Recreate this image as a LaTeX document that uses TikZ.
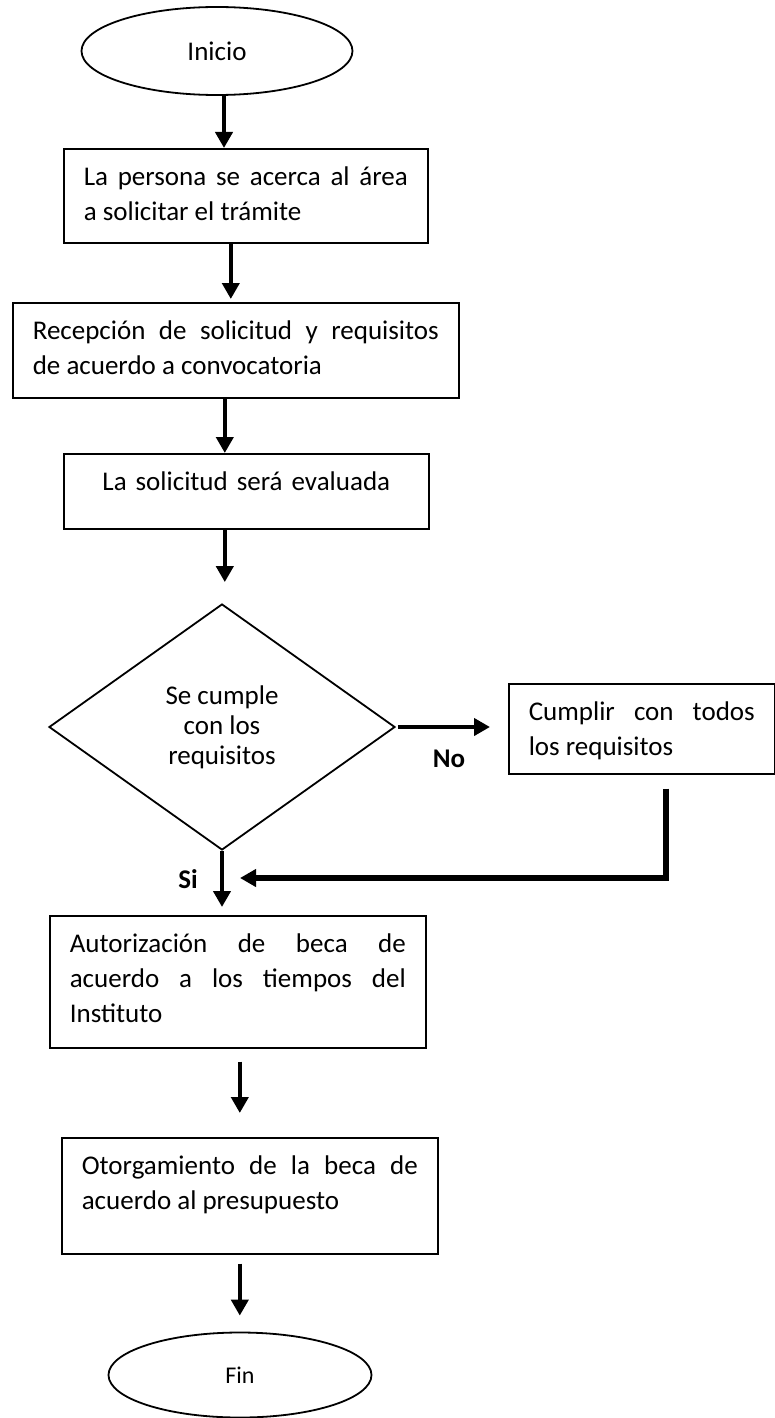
\documentclass[tikz,border=0pt]{standalone}
\usepackage{fontspec}
\setmainfont{Carlito}
\usepackage{tikz}
\usetikzlibrary{positioning,arrows.meta,shapes.geometric}
\hyphenpenalty=10000

\begin{document}
\begin{tikzpicture}[
    x=1pt, y=-1pt,
    font=\fontsize{27}{35}\selectfont,
    box/.style={draw, line width=1.6pt, anchor=north west, inner xsep=20pt, inner ysep=17pt, text height=20pt, align=justify},
    terminal/.style={draw, ellipse, line width=1.8pt, inner sep=0pt},
    decision/.style={draw, diamond, line width=1.8pt, inner sep=0pt, align=center, font=\fontsize{27}{30}\selectfont},
    arrow/.style={-{Triangle[length=16pt, width=17pt]}, line width=4.5pt},
    answer/.style={font=\fontsize{27}{30}\selectfont\bfseries, inner sep=0pt}
]
\useasboundingbox (0,0) rectangle (775,1418);

\node[terminal, minimum width=271pt, minimum height=88pt] (inicio) at (217,51) {Inicio};
\node[box, text width=324pt, text depth=40pt] (persona) at (63,148) {La persona se acerca al área\linebreak a solicitar el trámite};
\node[box, text width=406pt, text depth=41pt] (recepcion) at (12,302) {Recepción de solicitud y requisitos\linebreak de acuerdo a convocatoria};
\node[box, align=center, text width=325pt, text depth=21pt] (evaluada) at (63,453) {La solicitud será evaluada};
\node[decision, minimum width=346pt, minimum height=246pt] (cumple) at (222,727) {Se cumple\\con los\\requisitos};
\node[box, text width=226pt, text depth=36pt] (cumplir) at (508,683) {Cumplir con todos\linebreak los requisitos};
\node[box, text width=336pt, text depth=78pt] (autorizacion) at (49,915) {Autorización de beca de\linebreak acuerdo a los tiempos del\linebreak Instituto};
\node[box, text width=336pt, text depth=62pt] (otorgamiento) at (61,1137) {Otorgamiento de la beca de\linebreak acuerdo al presupuesto};
\node[terminal, minimum width=263pt, minimum height=85pt, font=\fontsize{24}{28}\selectfont] (fin) at (240,1375) {Fin};

% respuestas
\node[answer] (no) at (449,759) {No};
\node[answer] (si) at (188,879) {Si};
\coordinate (junction) at (221,878);

% flujo principal
\draw[arrow] ([xshift=7pt]inicio.south) -- ([xshift=7pt]inicio.south |- persona.north);
\draw[arrow, shorten >=3pt] ([xshift=-15pt]persona.south) -- ([xshift=-15pt]persona.south |- recepcion.north);
\draw[arrow] ([xshift=-11pt]recepcion.south) -- ([xshift=-11pt]recepcion.south |- evaluada.north);
\draw[arrow, shorten >=21pt] ([xshift=-21.5pt]evaluada.south) -- ([xshift=-21.5pt]evaluada.south |- cumple.north);
\draw[arrow, shorten >=8pt] (cumple.south) -- (cumple.south |- autorizacion.north);
\draw[arrow, shorten <=13pt, shorten >=24pt] ([xshift=2pt]autorizacion.south) -- ([xshift=2pt]autorizacion.south |- otorgamiento.north);
\draw[arrow, shorten <=9pt, shorten >=16pt] ([xshift=-10pt]otorgamiento.south) -- ([xshift=-10pt]otorgamiento.south |- fin.north);

% rama No y retorno
\draw[arrow, shorten <=2pt, shorten >=18pt] (cumple.east) -- (cumple.east -| cumplir.west);
\draw[arrow, line width=5.5pt, shorten <=14pt, shorten >=19pt] ([xshift=24pt]cumplir.south) |- (junction);
\end{tikzpicture}
\end{document}
